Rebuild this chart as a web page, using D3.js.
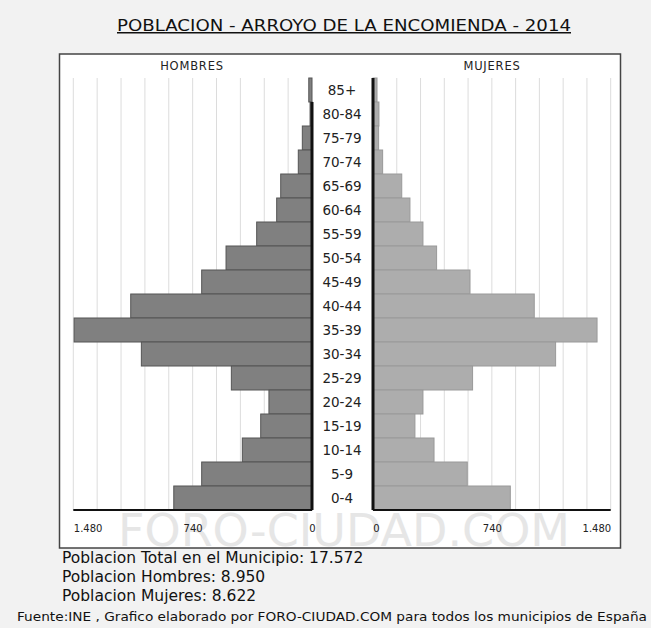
<!DOCTYPE html>
<html>
<head>
<meta charset="utf-8">
<script src="https://cdn.jsdelivr.net/npm/d3@7"></script>
<style>
  html, body { margin: 0; padding: 0; background: #f2f2f2; }
  svg { display: block; font-family: 'DejaVu Sans', Verdana, sans-serif; }
</style>
</head>
<body>
<div id="chart"></div>
<script>
const ages = ['85+', '80-84', '75-79', '70-74', '65-69', '60-64', '55-59', '50-54', '45-49',
  '40-44', '35-39', '30-34', '25-29', '20-24', '15-19', '10-14', '5-9', '0-4']
const hombres = [20, 12, 60, 85, 194, 219, 343, 533, 684, 1124, 1475, 1058, 500, 267, 318, 432, 684, 857]
const mujeres = [25, 37, 35, 60, 179, 230, 311, 396, 604, 1004, 1395, 1137, 620, 311, 261, 380, 587, 855]
const tickLabels = [0, 740, 1480]
const gridValues = d3.range(148, 1481, 148)

const width = 651
const height = 628

const svg = d3
  .select('#chart')
  .append('svg')
  .attr('width', width)
  .attr('height', height)

const es = d3.formatLocale({ decimal: ',', thousands: '.', grouping: [3], currency: ['', '€'] })
const fmt = es.format(',d')

const plotTop = 78
const plotBottom = 510

const xMen = d3.scaleLinear().domain([0, 1480]).range([312, 73.3])
const xWomen = d3.scaleLinear().domain([0, 1480]).range([373, 610.7])
const yScale = d3.scaleBand().domain(ages).range([plotTop, plotBottom])

// box
svg
  .append('rect')
  .attr('x', 59.5)
  .attr('y', 54)
  .attr('width', 561)
  .attr('height', 494)
  .attr('fill', 'white')
  .attr('stroke', '#444')
  .attr('stroke-width', 1.5)

// watermark
svg
  .append('text')
  .attr('x', 344)
  .attr('y', 546)
  .attr('text-anchor', 'middle')
  .attr('font-size', 44)
  .attr('fill', '#e6e6e6')
  .attr('textLength', 452)
  .attr('lengthAdjust', 'spacingAndGlyphs')
  .text('FORO-CIUDAD.COM')

// gridlines
svg
  .selectAll('.grid-men')
  .data(gridValues)
  .enter()
  .append('line')
  .attr('x1', d => xMen(d))
  .attr('x2', d => xMen(d))
  .attr('y1', plotTop)
  .attr('y2', plotBottom)
  .attr('stroke', '#dcdcdc')
  .attr('stroke-width', 1)

svg
  .selectAll('.grid-women')
  .data(gridValues)
  .enter()
  .append('line')
  .attr('x1', d => xWomen(d))
  .attr('x2', d => xWomen(d))
  .attr('y1', plotTop)
  .attr('y2', plotBottom)
  .attr('stroke', '#dcdcdc')
  .attr('stroke-width', 1)

// bars
svg
  .selectAll('.bar-men')
  .data(hombres)
  .enter()
  .append('rect')
  .attr('x', d => xMen(d))
  .attr('y', (d, i) => yScale(ages[i]))
  .attr('width', d => xMen(0) - xMen(d))
  .attr('height', yScale.bandwidth())
  .attr('fill', '#808080')
  .attr('stroke', '#555')
  .attr('stroke-width', 1)

svg
  .selectAll('.bar-women')
  .data(mujeres)
  .enter()
  .append('rect')
  .attr('x', xWomen(0))
  .attr('y', (d, i) => yScale(ages[i]))
  .attr('width', d => xWomen(d) - xWomen(0))
  .attr('height', yScale.bandwidth())
  .attr('fill', '#adadad')
  .attr('stroke', '#999')
  .attr('stroke-width', 1)

// zero lines
svg
  .append('line')
  .attr('x1', xMen(0))
  .attr('x2', xMen(0))
  .attr('y1', yScale('80-84'))
  .attr('y2', plotBottom)
  .attr('stroke', '#111')
  .attr('stroke-width', 3)

svg
  .append('line')
  .attr('x1', xWomen(0))
  .attr('x2', xWomen(0))
  .attr('y1', plotTop)
  .attr('y2', plotBottom)
  .attr('stroke', '#111')
  .attr('stroke-width', 3)

// bottom baselines
svg
  .append('line')
  .attr('x1', xMen(1480))
  .attr('x2', xMen(0))
  .attr('y1', plotBottom)
  .attr('y2', plotBottom)
  .attr('stroke', '#111')
  .attr('stroke-width', 2)

svg
  .append('line')
  .attr('x1', xWomen(0))
  .attr('x2', xWomen(1480))
  .attr('y1', plotBottom)
  .attr('y2', plotBottom)
  .attr('stroke', '#111')
  .attr('stroke-width', 2)

// age labels
svg
  .selectAll('.age-label')
  .data(ages)
  .enter()
  .append('text')
  .attr('x', 342)
  .attr('y', d => yScale(d) + yScale.bandwidth() / 2)
  .attr('dy', '0.36em')
  .attr('text-anchor', 'middle')
  .attr('font-size', 13.5)
  .attr('fill', '#222')
  .text(d => d)

// axes
const xAxisMen = d3.axisBottom(xMen).tickValues(tickLabels).tickFormat(fmt).tickSize(0)
const xAxisWomen = d3.axisBottom(xWomen).tickValues(tickLabels).tickFormat(fmt).tickSize(0)

const gMen = svg
  .append('g')
  .attr('class', 'axis x-axis')
  .attr('transform', 'translate(0,' + 520 + ')')
  .call(xAxisMen)

const gWomen = svg
  .append('g')
  .attr('class', 'axis x-axis')
  .attr('transform', 'translate(0,' + 520 + ')')
  .call(xAxisWomen)

svg.selectAll('.x-axis .domain').remove()
svg
  .selectAll('.x-axis text')
  .attr('font-family', "'DejaVu Sans', sans-serif")
  .attr('font-size', 10)
  .attr('fill', '#222')
  .attr('dy', '0.85em')
gMen.selectAll('text').filter(d => d === 1480).attr('text-anchor', 'start')
gWomen.selectAll('text').filter(d => d === 1480).attr('text-anchor', 'end')
gWomen.selectAll('text').filter(d => d === 0).attr('dx', 3)

// panel headings
svg
  .append('text')
  .attr('x', 192)
  .attr('y', 70)
  .attr('text-anchor', 'middle')
  .attr('font-size', 11.5)
  .attr('letter-spacing', 0.8)
  .attr('fill', '#222')
  .text('HOMBRES')

svg
  .append('text')
  .attr('x', 492)
  .attr('y', 70)
  .attr('text-anchor', 'middle')
  .attr('font-size', 11.5)
  .attr('letter-spacing', 0.8)
  .attr('fill', '#222')
  .text('MUJERES')

// title
svg
  .append('text')
  .attr('x', 344)
  .attr('y', 31)
  .attr('text-anchor', 'middle')
  .attr('font-size', 15)
  .attr('fill', '#111')
  .attr('text-decoration', 'underline')
  .attr('textLength', 454)
  .attr('lengthAdjust', 'spacingAndGlyphs')
  .text('POBLACION - ARROYO DE LA ENCOMIENDA - 2014')

// summary
const summary = [
  'Poblacion Total en el Municipio: ' + fmt(17572),
  'Poblacion Hombres: ' + fmt(8950),
  'Poblacion Mujeres: ' + fmt(8622)
]

svg
  .selectAll('.summary')
  .data(summary)
  .enter()
  .append('text')
  .attr('x', 62)
  .attr('y', (d, i) => 563 + i * 19)
  .attr('font-size', 15.5)
  .attr('fill', '#111')
  .text(d => d)

svg
  .append('text')
  .attr('x', 17)
  .attr('y', 621)
  .attr('font-size', 11.5)
  .attr('fill', '#111')
  .attr('textLength', 630)
  .attr('lengthAdjust', 'spacingAndGlyphs')
  .text('Fuente:INE , Grafico elaborado por FORO-CIUDAD.COM para todos los municipios de España')
</script>
</body>
</html>
